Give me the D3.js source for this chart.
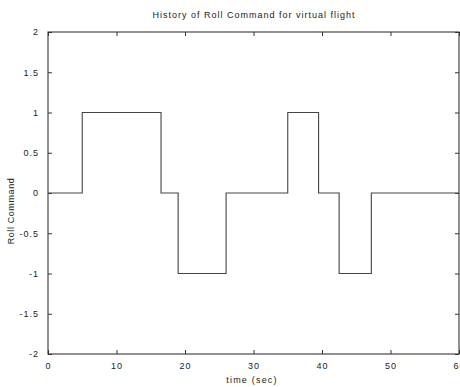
<!DOCTYPE html>
<html><head><meta charset="utf-8">
<script src="https://cdn.jsdelivr.net/npm/d3@7"></script>
<style>body{margin:0;background:#fff}svg{display:block}text{font-family:"Liberation Sans",Arial,sans-serif;fill:#222}</style>
</head><body>
<script>
const stepTimes = [0, 5, 16.5, 19, 26, 35, 39.5, 42.5, 47.2, 60];
const stepValues = [0, 1, 0, -1, 0, 1, 0, -1, 0, 0];
const xTicks = [0, 10, 20, 30, 40, 50, 60];
const yTicks = [2, 1.5, 1, 0.5, 0, -0.5, -1, -1.5, -2];
const yTickLabels = ["2", "1.5", "1", "0.5", "0", "-0.5", "-1", "-1.5", "-2"];

const W = 460, H = 387;
const m = {l: 48, r: 459, t: 32, b: 354};
const svg = d3.select("body").append("svg").attr("width", W).attr("height", H);
const x = d3.scaleLinear().domain([0, 60]).range([m.l, m.r]);
const y = d3.scaleLinear().domain([-2, 2]).range([m.b, m.t]);

svg.append("rect").attr("x", m.l).attr("y", m.t).attr("width", m.r - m.l).attr("height", m.b - m.t)
  .attr("fill", "none").attr("stroke", "#222").attr("stroke-width", 1);

const xa = svg.append("g").attr("transform", `translate(0,${m.b})`)
  .call(d3.axisBottom(x).tickValues(xTicks).tickSize(-4).tickPadding(9).tickFormat(d3.format("d")));
const xt = svg.append("g").attr("transform", `translate(0,${m.t})`)
  .call(d3.axisTop(x).tickValues(xTicks).tickSize(-4).tickFormat(""));
const ya = svg.append("g").attr("transform", `translate(${m.l},0)`)
  .call(d3.axisLeft(y).tickValues(yTicks).tickSize(-4).tickPadding(9).tickFormat((d, i) => yTickLabels[i]));
const yr = svg.append("g").attr("transform", `translate(${m.r},0)`)
  .call(d3.axisRight(y).tickValues(yTicks).tickSize(-4).tickFormat(""));
[xa, xt, ya, yr].forEach(g => {
  g.select(".domain").remove();
  g.selectAll("line").attr("stroke", "#333");
  g.selectAll("text").attr("font-size", 9).attr("fill", "#222").style("letter-spacing", "1px");
});

const pts = stepTimes.map((t, i) => [t, stepValues[i]]);
const line = d3.line().x(d => x(d[0])).y(d => y(d[1])).curve(d3.curveStepAfter);
svg.append("path").datum(pts).attr("d", line).attr("fill", "none")
  .attr("stroke", "#444").attr("stroke-width", 1.1);

svg.append("text").attr("x", 254).attr("y", 18).attr("text-anchor", "middle").attr("font-size", 9)
  .style("letter-spacing", "1px").text("History of Roll Command for virtual flight");
svg.append("text").attr("x", 252).attr("y", 383).attr("text-anchor", "middle").attr("font-size", 9)
  .style("letter-spacing", "1.2px").text("time (sec)");
svg.append("text").attr("transform", `translate(14,${(m.t + m.b) / 2 + 18}) rotate(-90)`).attr("text-anchor", "middle")
  .attr("font-size", 9).style("letter-spacing", "0.6px").text("Roll Command");
</script>
</body></html>
